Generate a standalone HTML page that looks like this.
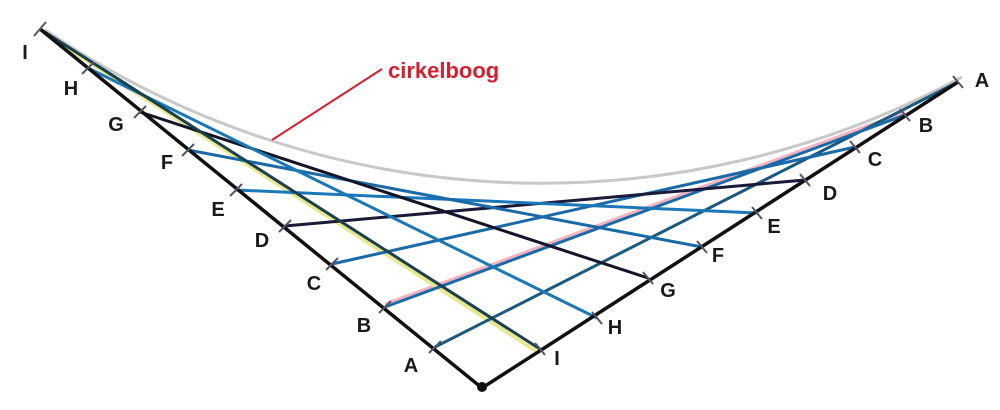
<!DOCTYPE html>
<html><head><meta charset="utf-8"><style>
html,body{margin:0;padding:0;background:#fff;}
svg{display:block;}
text{font-family:"Liberation Sans",sans-serif;font-weight:bold;}
</style></head><body>
<svg width="1000" height="410" viewBox="0 0 1000 410" xmlns="http://www.w3.org/2000/svg">
<rect width="1000" height="410" fill="#fff"/>
<path d="M45,30 A883,883 0 0 0 962,77" fill="none" stroke="#c8c8c8" stroke-width="3"/>
<line x1="385" y1="304" x2="905" y2="112" stroke="#f0a0b0" stroke-width="3" opacity="0.8"/>
<line x1="44" y1="33" x2="536" y2="351" stroke="#e8e890" stroke-width="4"/>
<g stroke-width="3" fill="none">
<line x1="435" y1="347" x2="958" y2="82" stroke="#1a5a80"/>
<line x1="385" y1="307" x2="905" y2="115" stroke="#1a6aa8"/>
<line x1="332" y1="264" x2="855" y2="147" stroke="#1a6aa8"/>
<line x1="285" y1="226" x2="805" y2="180" stroke="#1a1a3a"/>
<line x1="236" y1="190" x2="757" y2="213" stroke="#1a78b8"/>
<line x1="188" y1="150" x2="702" y2="247" stroke="#1a6aa8"/>
<line x1="140" y1="112" x2="648" y2="278" stroke="#15152a"/>
<line x1="88" y1="68" x2="597" y2="318" stroke="#1a78b8"/>
<line x1="40" y1="29" x2="540" y2="349" stroke="#1a4050"/>
</g>
<polyline points="40,29 482,388 958,82" fill="none" stroke="#111" stroke-width="3.5"/>
<circle cx="482" cy="387" r="5" fill="#111"/>
<g stroke="#556" stroke-width="2">
<line x1="34" y1="36" x2="46" y2="22"/>
<line x1="82" y1="74" x2="94" y2="62"/>
<line x1="134" y1="118" x2="146" y2="106"/>
<line x1="182" y1="156" x2="194" y2="144"/>
<line x1="230" y1="196" x2="242" y2="184"/>
<line x1="279" y1="232" x2="291" y2="220"/>
<line x1="326" y1="270" x2="338" y2="258"/>
<line x1="379" y1="313" x2="391" y2="301"/>
<line x1="429" y1="353" x2="441" y2="341"/>
<line x1="535" y1="343" x2="545" y2="355"/>
<line x1="592" y1="312" x2="602" y2="324"/>
<line x1="643" y1="272" x2="653" y2="284"/>
<line x1="697" y1="241" x2="707" y2="253"/>
<line x1="752" y1="207" x2="762" y2="219"/>
<line x1="800" y1="174" x2="810" y2="186"/>
<line x1="850" y1="141" x2="860" y2="153"/>
<line x1="900" y1="109" x2="910" y2="121"/>
<line x1="953" y1="76" x2="963" y2="88"/>
</g>
<line x1="382" y1="69" x2="272" y2="140" stroke="#d42030" stroke-width="2"/>
<text x="388" y="78" font-size="22" fill="#d42030">cirkelboog</text>
<g font-size="20" fill="#1a1a1a" text-anchor="middle">
<text x="25" y="59">I</text>
<text x="71" y="95">H</text>
<text x="116" y="131">G</text>
<text x="167" y="169">F</text>
<text x="218" y="216">E</text>
<text x="262" y="247">D</text>
<text x="314" y="290">C</text>
<text x="364" y="332">B</text>
<text x="411" y="372">A</text>
<text x="557" y="365">I</text>
<text x="615" y="334">H</text>
<text x="668" y="297">G</text>
<text x="718" y="262">F</text>
<text x="774" y="233">E</text>
<text x="830" y="200">D</text>
<text x="875" y="166">C</text>
<text x="926" y="132">B</text>
<text x="982" y="87">A</text>
</g>
</svg>
</body></html>
